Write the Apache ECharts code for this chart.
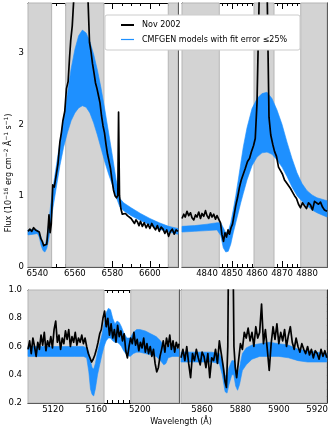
<!DOCTYPE html>
<html><head><meta charset="utf-8">
<script src="https://cdn.jsdelivr.net/npm/echarts@6/dist/echarts.min.js"></script>
<style>html,body{margin:0;padding:0;background:#fff}#c{width:331px;height:428px}</style>
</head><body><div id="c"></div>
<script>
// ---------------- DATA ----------------
// Panel 1: H-alpha
const haWave = [6535,6536,6537,6538,6539,6540,6541,6541.8,6542.6,6543.4,6544.2,6545,6545.6,6546.2,6546.8,6547.4,6548.2,6549,6550,6551,6552,6552.8,6553.6,6554.6,6555.5,6556.4,6557.2,6557.8,6558.6,6559.4,6561,6563.5,6566,6567,6567.8,6568.6,6569.4,6570.2,6571,6571.8,6572.6,6573.4,6574.2,6575,6575.8,6576.6,6577.4,6578.2,6579,6579.8,6580.6,6581.4,6582.2,6582.9,6583.3,6583.8,6584.5,6585.3,6586,6587,6588,6589,6590,6591,6591.8,6592.6,6593.4,6594.2,6595,6596,6597,6598,6599,6600,6601,6602,6603,6604,6605,6606,6607,6608,6609,6610,6611,6612,6613,6614,6615];
const haFlux = [0.50,0.53,0.50,0.55,0.52,0.54,0.49,0.40,0.36,0.30,0.28,0.32,0.50,0.73,0.48,0.60,1.15,1.12,1.28,1.45,1.75,1.88,2.05,2.18,2.50,2.60,2.95,3.18,3.38,3.75,4.6,5.2,4.4,3.75,3.15,3.02,2.85,2.72,2.58,2.50,2.40,2.30,2.12,1.98,1.88,1.72,1.58,1.48,1.38,1.22,1.08,1.00,0.97,1.00,2.17,1.00,0.82,0.74,0.72,0.75,0.72,0.73,0.68,0.70,0.61,0.66,0.63,0.58,0.64,0.57,0.62,0.55,0.60,0.54,0.61,0.56,0.52,0.58,0.50,0.56,0.53,0.47,0.52,0.43,0.50,0.53,0.46,0.52,0.50];
const haModelWave = [6535,6538,6540,6541,6542,6543,6544,6545,6546,6547,6548,6550,6552,6554,6556,6558,6560,6562,6564,6566,6568,6570,6572,6574,6576,6578,6580,6582,6584,6586,6590,6595,6600,6605,6610,6615];
const haModelHi = [0.52,0.53,0.52,0.48,0.42,0.32,0.30,0.40,0.60,0.85,1.05,1.40,1.75,2.08,2.42,2.78,3.05,3.24,3.32,3.28,3.16,2.98,2.76,2.50,2.20,1.88,1.56,1.22,0.96,0.90,0.83,0.75,0.68,0.62,0.57,0.54];
const haModelLo = [0.45,0.46,0.47,0.42,0.30,0.23,0.21,0.26,0.38,0.55,0.78,1.10,1.42,1.68,1.88,2.05,2.16,2.23,2.26,2.24,2.16,2.02,1.85,1.66,1.47,1.30,1.15,0.98,0.84,0.79,0.72,0.65,0.59,0.53,0.49,0.46];
const haBands = [[6535,6547.6],[6555.1,6575.5],[6609.8,6615]];
const haTicks = [6540,6560,6580,6600];
const haMinor = [6545,6550,6555,6565,6570,6575,6585,6590,6595,6605,6610];

// Panel 2: H-beta
const hbWave = [4830,4830.7,4831.3,4832,4832.7,4833.4,4834,4834.7,4835.4,4836,4836.7,4837.4,4838,4838.7,4839.4,4840,4840.7,4841.4,4842,4842.7,4843.4,4844,4844.7,4845.4,4846,4846.6,4847.2,4847.8,4848.4,4849,4849.6,4850.2,4850.8,4851.5,4852.2,4853,4853.7,4854.5,4855.3,4856.2,4857,4857.8,4858.6,4859.3,4860,4861,4862.5,4864,4864.8,4865.5,4866.3,4867,4867.8,4868.6,4869.4,4870.2,4871,4871.8,4872.6,4873.4,4874.2,4875,4875.8,4876.6,4877.4,4878.2,4879,4879.8,4880.6,4881.4,4882.2,4883,4883.8,4884.6,4885.4,4886.2,4887,4888];
const hbFlux = [0.68,0.74,0.70,0.78,0.72,0.76,0.69,0.66,0.73,0.70,0.77,0.68,0.75,0.71,0.79,0.72,0.68,0.76,0.70,0.74,0.67,0.72,0.70,0.62,0.45,0.36,0.48,0.42,0.52,0.46,0.55,0.60,0.72,0.86,0.97,1.12,1.22,1.30,1.38,1.48,1.52,1.62,1.70,1.80,2.3,4.0,5.0,4.0,2.1,1.85,1.72,1.62,1.55,1.40,1.35,1.30,1.22,1.18,1.20,1.10,1.05,1.00,0.96,0.88,0.83,0.90,0.86,0.82,0.90,0.87,0.80,0.92,0.94,0.88,0.91,0.84,0.80,0.78];
const hbModelWave = [4830,4835,4840,4844,4845.5,4846.5,4847.5,4848.5,4849.5,4850.5,4851.5,4852.5,4853.5,4854.5,4856,4858,4860,4862,4864,4866,4868,4870,4872,4874,4876,4878,4880,4882,4884,4886,4888];
const hbModelHi = [0.57,0.58,0.60,0.62,0.62,0.55,0.48,0.50,0.62,0.80,1.00,1.22,1.45,1.68,1.95,2.22,2.36,2.43,2.45,2.36,2.20,2.00,1.75,1.52,1.32,1.17,1.07,1.01,0.97,0.95,0.93];
const hbModelLo = [0.49,0.50,0.51,0.52,0.44,0.27,0.21,0.22,0.32,0.48,0.62,0.76,0.90,1.03,1.22,1.42,1.54,1.60,1.61,1.58,1.50,1.40,1.27,1.12,1.00,0.92,0.86,0.80,0.76,0.73,0.70];
const hbBands = [[4830,4844.9],[4858.8,4866.8],[4877.5,4888]];
const hbTicks = [4840,4850,4860,4870,4880];
const hbMinor = [4832,4834,4836,4838,4842,4844,4846,4848,4852,4854,4856,4858,4862,4864,4866,4868,4872,4874,4876,4878,4882,4884,4886];

// Panel 3: 5100-5240
const blWave = [5097,5098.5,5100,5101.5,5103,5104.5,5106,5107.5,5109,5110.5,5112,5113.5,5115,5116.5,5118,5119.5,5121,5122.5,5124,5125.5,5127,5128.5,5130,5131.5,5133,5134.5,5136,5137.5,5139,5140.5,5142,5143.5,5145,5146.5,5148,5149.5,5151,5152.5,5154,5155.5,5157,5158.5,5160,5161.5,5163,5164.5,5166,5167.5,5169,5170.5,5172,5173.5,5175,5176.5,5178,5179.5,5181,5182.5,5184,5185.5,5187,5188.5,5190,5191.5,5193,5194.5,5196,5197.5,5199,5200.5,5202,5203.5,5205,5206.5,5208,5209.5,5211,5212.5,5214,5215.5,5217,5218.5,5220,5221.5,5223,5224.5,5226,5227.5,5229,5230.5,5232,5233.5,5235,5236];
const blFlux = [0.58,0.64,0.55,0.66,0.60,0.53,0.63,0.58,0.68,0.61,0.70,0.57,0.64,0.60,0.67,0.59,0.72,0.78,0.63,0.68,0.58,0.66,0.62,0.71,0.65,0.72,0.60,0.67,0.63,0.70,0.61,0.66,0.63,0.68,0.62,0.66,0.60,0.55,0.52,0.49,0.51,0.54,0.58,0.63,0.69,0.72,0.80,0.85,0.74,0.80,0.68,0.76,0.66,0.72,0.63,0.75,0.67,0.71,0.64,0.69,0.57,0.52,0.60,0.66,0.62,0.70,0.61,0.65,0.57,0.63,0.59,0.66,0.56,0.62,0.55,0.60,0.53,0.58,0.48,0.42,0.45,0.53,0.58,0.64,0.56,0.66,0.60,0.68,0.58,0.64,0.56,0.63,0.59,0.62];
const blModelWave = [5097,5110,5120,5130,5140,5148,5151,5153,5154.5,5156,5157.5,5159,5161,5163,5165,5167,5169,5171,5173,5175,5177,5179,5181,5183,5185,5188,5191,5194,5197,5200,5205,5210,5215,5219,5222,5224,5226,5230,5236];
const blModelHi = [0.60,0.60,0.60,0.60,0.60,0.60,0.59,0.56,0.50,0.45,0.44,0.48,0.56,0.62,0.68,0.76,0.84,0.87,0.86,0.80,0.76,0.78,0.77,0.74,0.70,0.66,0.66,0.70,0.72,0.72,0.71,0.69,0.67,0.64,0.60,0.58,0.62,0.60,0.58];
const blModelLo = [0.53,0.53,0.53,0.53,0.53,0.53,0.52,0.42,0.30,0.26,0.25,0.30,0.40,0.47,0.54,0.60,0.64,0.66,0.66,0.64,0.63,0.63,0.62,0.60,0.57,0.54,0.53,0.55,0.56,0.56,0.55,0.54,0.53,0.50,0.47,0.48,0.52,0.53,0.53];
const blBands = [[5097,5167],[5191.6,5236]];
const blTicks = [5120,5160,5200];
const blMinor = [5100,5105,5110,5115,5125,5130,5135,5140,5145,5150,5155,5165,5170,5175,5180,5185,5190,5195,5205,5210,5215,5220,5225,5230,5235];

// Panel 4: 5850-5925
const brWave = [5849,5850,5851,5852,5853,5854,5855,5856,5857,5858,5859,5860,5861,5862,5863,5864,5865,5866,5867,5868,5869,5870,5871,5872,5872.7,5873.4,5873.8,5875,5876.1,5876.6,5877.3,5878,5879,5880,5881,5882,5883,5884,5885,5886,5887,5888,5889,5890,5891,5892,5893,5894,5895,5896,5897,5898,5899,5900,5901,5902,5903,5904,5905,5906,5907,5908,5909,5910,5911,5912,5913,5914,5915,5916,5917,5918,5919,5920,5921,5922,5923,5924,5925];
const brFlux = [0.52,0.58,0.50,0.60,0.48,0.38,0.55,0.50,0.58,0.52,0.47,0.56,0.53,0.45,0.55,0.38,0.52,0.50,0.58,0.48,0.64,0.55,0.46,0.35,0.31,0.60,1.30,1.40,1.30,0.60,0.45,0.38,0.50,0.62,0.58,0.70,0.66,0.73,0.64,0.70,0.60,0.74,0.66,0.70,0.90,0.62,0.72,0.58,0.43,0.62,0.74,0.65,0.76,0.62,0.70,0.64,0.72,0.60,0.68,0.74,0.63,0.58,0.66,0.60,0.56,0.62,0.58,0.55,0.60,0.54,0.58,0.52,0.57,0.55,0.51,0.58,0.53,0.57,0.52];
const brModelWave = [5849,5855,5860,5865,5869,5870.5,5872,5873,5874,5875.5,5876.5,5877.5,5878.5,5879.5,5881,5883,5886,5890,5895,5900,5905,5910,5915,5920,5925];
const brModelHi = [0.56,0.56,0.56,0.56,0.55,0.50,0.40,0.38,0.45,0.50,0.50,0.44,0.40,0.45,0.55,0.59,0.61,0.62,0.63,0.62,0.61,0.58,0.57,0.56,0.55];
const brModelLo = [0.49,0.49,0.49,0.49,0.48,0.40,0.28,0.27,0.33,0.40,0.40,0.32,0.29,0.33,0.43,0.47,0.51,0.53,0.53,0.53,0.52,0.50,0.49,0.49,0.49];
const brBands = [[5849,5925]];
const brTicks = [5860,5880,5900,5920];
const brMinor = [5850,5852,5854,5856,5858,5862,5864,5866,5868,5870,5872,5874,5876,5878,5882,5884,5886,5888,5890,5892,5894,5896,5898,5902,5904,5906,5908,5910,5912,5914,5916,5918,5922,5924];

// y ticks
const fluxTicksTop = [0,1,2,3];
const fluxMinorTop = [0.1,0.2,0.3,0.4,0.5,0.6,0.7,0.8,0.9,1.1,1.2,1.3,1.4,1.5,1.6,1.7,1.8,1.9,2.1,2.2,2.3,2.4,2.5,2.6,2.7,2.8,2.9,3.1,3.2,3.3,3.4,3.5,3.6];
const fluxTicksBot = [0.2,0.4,0.6,0.8,1.0];
const fluxMinorBot = [0.25,0.3,0.35,0.45,0.5,0.55,0.65,0.7,0.75,0.85,0.9,0.95];

const OBS = 'Nov 2002';
const CMF = 'CMFGEN models with fit error \u226425%';

// ---------------- CHART ----------------
const FONT = 'DejaVu Sans';
const BLUE = '#1e90ff';
const zip = (xs, ys) => xs.map((x, i) => [x, ys[i]]);

const panels = [
  {grid:{left:28,top:3,width:150,height:264}, xr:[6535,6615], yr:[0,3.7], xt:haTicks, xm:haMinor, yt:fluxTicksTop, ym:fluxMinorTop, ylab:true, ymargin:4, yfmt:v=>String(v),
   bands:haBands, w:haWave, f:haFlux, mw:haModelWave, lo:haModelLo, hi:haModelHi},
  {grid:{left:182,top:3,width:145,height:264}, xr:[4830,4888], yr:[0,3.7], xt:hbTicks, xm:hbMinor, yt:fluxTicksTop, ym:fluxMinorTop, ylab:false, ymargin:4, yfmt:v=>String(v),
   bands:hbBands, w:hbWave, f:hbFlux, mw:hbModelWave, lo:hbModelLo, hi:hbModelHi},
  {grid:{left:28,top:290,width:151,height:113}, xr:[5097,5236], yr:[0.2,1.0], xt:blTicks, xm:blMinor, yt:fluxTicksBot, ym:fluxMinorBot, ylab:true, ymargin:6, yfmt:v=>v.toFixed(1),
   bands:blBands, w:blWave, f:blFlux, mw:blModelWave, lo:blModelLo, hi:blModelHi},
  {grid:{left:181,top:290,width:147,height:113}, xr:[5849,5925], yr:[0.2,1.0], xt:brTicks, xm:brMinor, yt:fluxTicksBot, ym:fluxMinorBot, ylab:false, ymargin:6, yfmt:v=>v.toFixed(1),
   bands:brBands, w:brWave, f:brFlux, mw:brModelWave, lo:brModelLo, hi:brModelHi}
];

const MAJ = 6, MIN = 3;
const grids = [], xAxes = [], yAxes = [], series = [];

function axis(gi, pos, range, ticks, len, showLine, labelOpt) {
  return {
    gridIndex: gi, type: 'value', position: pos, min: range[0], max: range[1],
    axisLine: {show: showLine, onZero: false, lineStyle: {color: '#000', width: 1}},
    axisTick: {show: true, inside: true, length: len, customValues: ticks, lineStyle: {color: '#000', width: 1}},
    axisLabel: labelOpt ? Object.assign({show: true, customValues: ticks, fontSize: 8.5, fontFamily: FONT, color: '#000', hideOverlap: false}, labelOpt) : {show: false},
    splitLine: {show: false}, minorTick: {show: false}, splitArea: {show: false}
  };
}

panels.forEach((p, i) => {
  grids.push(Object.assign({containLabel: false}, p.grid));
  xAxes.push(axis(i, 'bottom', p.xr, p.xt, MAJ, true, {margin: 2, formatter: v => String(v)}));
  xAxes.push(axis(i, 'bottom', p.xr, p.xm, MIN, false, null));
  xAxes.push(axis(i, 'top', p.xr, p.xt, MAJ, true, null));
  xAxes.push(axis(i, 'top', p.xr, p.xm, MIN, false, null));
  yAxes.push(axis(i, 'left', p.yr, p.yt, MAJ, true, p.ylab ? {margin: p.ymargin, formatter: p.yfmt} : null));
  yAxes.push(axis(i, 'left', p.yr, p.ym, MIN, false, null));
  yAxes.push(axis(i, 'right', p.yr, p.yt, MAJ, true, null));
  yAxes.push(axis(i, 'right', p.yr, p.ym, MIN, false, null));
  const xi = 4 * i, yi = 4 * i;
  // grey masked regions
  series.push({
    type: 'line', xAxisIndex: xi, yAxisIndex: yi, data: [], silent: true, z: 1,
    markArea: {silent: true, z: 1, label: {show: false},
      itemStyle: {color: '#d3d3d3', borderColor: '#b5b5b5', borderWidth: 1},
      data: p.bands.map(b => [{xAxis: b[0]}, {xAxis: b[1]}])}
  });
  // model envelope
  series.push({
    type: 'custom', name: CMF, xAxisIndex: xi, yAxisIndex: yi, coordinateSystem: 'cartesian2d',
    data: p.mw.map((x, k) => [x, p.lo[k], p.hi[k]]), encode: {x: 0, y: [1, 2]},
    itemStyle: {color: BLUE}, color: BLUE, silent: true, z: 2,
    renderItem: (params, api) => {
      if (params.dataIndexInside !== 0) return null;
      const n = params.dataInsideLength;
      const top = [], bot = [];
      for (let k = 0; k < n; k++) {
        const x = api.value(0, k);
        top.push(api.coord([x, api.value(2, k)]));
        bot.push(api.coord([x, api.value(1, k)]));
      }
      return {type: 'polygon', shape: {points: top.concat(bot.reverse())},
              style: {fill: BLUE, stroke: BLUE, lineWidth: 0.6}};
    }
  });
  // observed spectrum
  series.push({
    type: 'line', name: OBS, xAxisIndex: xi, yAxisIndex: yi, data: zip(p.w, p.f),
    symbol: 'none', showSymbol: false, color: '#000', clip: true, silent: true, z: 3,
    lineStyle: {color: '#000', width: 1.7, join: 'round'}
  });
});

const chart = echarts.init(document.getElementById('c'), null, {renderer: 'canvas'});
chart.setOption({
  animation: false,
  textStyle: {fontFamily: FONT},
  grid: grids, xAxis: xAxes, yAxis: yAxes, series: series,
  legend: [
    {data: [{name: OBS, icon: 'rect', itemStyle: {color: '#000', borderWidth: 0}}], left: 121, top: 21, padding: 0,
     itemWidth: 13, itemHeight: 2, selectedMode: false, z: 20,
     textStyle: {fontSize: 8, fontFamily: FONT, color: '#000', padding: [0, 0, 0, 3]}},
    {data: [{name: CMF, icon: 'rect', itemStyle: {color: BLUE, borderWidth: 0, opacity: 1}}], left: 121, top: 35.5, padding: 0,
     itemWidth: 13, itemHeight: 1.2, selectedMode: false, z: 20,
     textStyle: {fontSize: 8, fontFamily: FONT, color: '#000', padding: [0, 0, 0, 3]}}
  ],
  graphic: [
    {type: 'rect', z: 10, silent: true, shape: {x: 105, y: 15, width: 195, height: 35, r: 2},
     style: {fill: '#ffffff', stroke: '#cccccc', lineWidth: 1}},
    {type: 'text', z: 10, silent: true, x: 9, y: 173, rotation: Math.PI / 2,
     style: {text: 'Flux (10{s|\u221216} erg cm{s|\u22122} \u00c5{s|\u22121} s{s|\u22121})',
       rich: {s: {fontSize: 5.8, fontFamily: FONT, fill: '#000', padding: [0, 0, 6, 0]}},
       fontSize: 8, fontFamily: FONT, fill: '#000', align: 'center', verticalAlign: 'middle'}},
    {type: 'text', z: 10, silent: true, x: 181, y: 422,
     style: {text: 'Wavelength (\u00c5)', fontSize: 8, fontFamily: FONT, fill: '#000', align: 'center', verticalAlign: 'middle'}}
  ]
});
</script>
</body></html>
